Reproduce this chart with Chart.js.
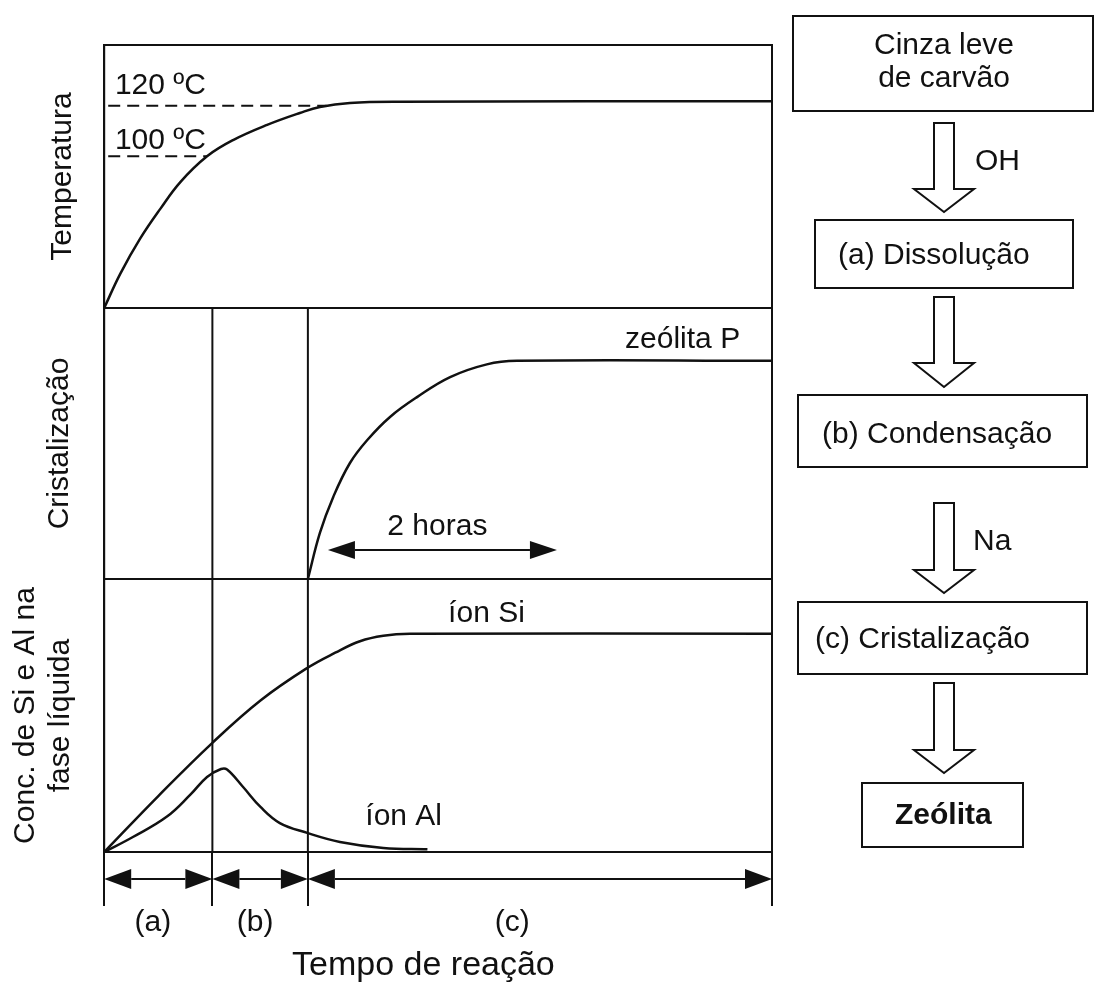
<!DOCTYPE html>
<html lang="pt">
<head>
<meta charset="utf-8">
<title>Síntese de zeólita a partir de cinza leve de carvão</title>
<script src="https://cdn.jsdelivr.net/npm/chart.js@4.4.1/dist/chart.umd.min.js"></script>
<style>
  html, body { margin: 0; padding: 0; background: #fff; }
  #wrap { position: relative; width: 1096px; height: 988px; }
</style>
</head>
<body>
<div id="wrap"><canvas id="zeoliteChart"></canvas></div>
<script>
// time axis, arbitrary units (0 = start of the reaction)
const phaseEdges = [0, 16.2, 30.5, 100];
const phaseLabels = ['(a)', '(b)', '(c)'];
const phaseLabelAt = [7.3, 22.6, 61.1];

// temperature, ºC
const tempTime = [0, 2.4, 5.4, 8.4, 11.4, 15.4, 19.3, 24.4, 29.3, 32.3, 36.8, 44.3, 100];
const tempValues = [40, 53.5, 67.5, 79.2, 89.8, 100, 106.4, 112.4, 117.1, 119.5, 121.1, 121.6, 121.8];
const tempMarks = [100, 120];
const tempMarkEnds = [15.4, 33.3];

// crystallisation of zeolite P
const crystTime = [30.5, 32.3, 34.3, 36.8, 39.4, 42.8, 46.9, 51.8, 57.3, 61.8, 100];
const crystValues = [0, 17, 30.3, 42.8, 51.3, 59.8, 67.2, 74.5, 79.2, 80.5, 80.5];
const twoHours = [33.5, 67.8];

// Si and Al ions in the liquid phase
const siTime = [0, 8.1, 16.2, 23.4, 30.4, 34.6, 38.3, 41.8, 45.8, 100];
const siValues = [0, 20.5, 40, 55.5, 67.4, 73, 77.2, 79.2, 79.9, 79.9];
const alTime = [0, 4.3, 9.4, 12.9, 15.4, 17.5, 18.4, 20.8, 23.4, 26.3, 30.4, 35.3, 41.8, 48.4];
const alValues = [0, 5.5, 13, 21, 27.5, 30.4, 30.2, 23.8, 16.5, 10.6, 7, 3.7, 1.5, 1.0];

// flow chart on the right
const flowSteps = [['Cinza leve', 'de carvão'], ['(a) Dissolução'], ['(b) Condensação'], ['(c) Cristalização'], ['Zeólita']];
const flowReagents = ['OH', '', 'Na', ''];

const INK = '#111';
const FONT = '"Liberation Sans", Arial, Helvetica, sans-serif';
Chart.defaults.font.family = FONT;

// where the annotations sit (data coordinates)
const notes = [
  { text: '120 ºC', axis: 'yTemp', x: 1.6, y: 124.8 },
  { text: '100 ºC', axis: 'yTemp', x: 1.6, y: 102.7 },
  { text: 'zeólita P', axis: 'yCryst', x: 78, y: 85.2 },
  { text: '2 horas', axis: 'yCryst', x: 42.4, y: 16.2 },
  { text: 'íon Si', axis: 'yConc', x: 51.5, y: 84.2 },
  { text: 'íon Al', axis: 'yConc', x: 39.1, y: 9.9 }
];

// flow chart layout (page pixels)
const flowCx = 944;
const flowBoxes = [[793, 16, 1093, 111], [815, 220, 1073, 288], [798, 395, 1087, 467], [798, 602, 1087, 674], [862, 783, 1023, 847]];
const flowTextPos = [[944, [54, 87], 'center'], [838, [264], 'left'], [822, [443], 'left'], [815, [648], 'left'], [895, [824], 'left']];
const flowArrows = [[123, 189, 212], [297, 363, 387], [503, 570, 593], [683, 750, 773]];
const reagentPos = [[975, 170], null, [973, 550], null];

const pts = (xs, ys) => xs.map((x, i) => ({ x: x, y: ys[i] }));

const curve = (data, axis, extra) => Object.assign({
  data: data,
  yAxisID: axis,
  borderColor: INK,
  borderWidth: 2.5,
  pointRadius: 0,
  fill: false,
  tension: 0.4
}, extra || {});

function head(ctx, tipX, y, len, half, dir) {
  ctx.beginPath();
  ctx.moveTo(tipX, y);
  ctx.lineTo(tipX - dir * len, y - half);
  ctx.lineTo(tipX - dir * len, y + half);
  ctx.closePath();
  ctx.fill();
}

function doubleArrow(ctx, x0, x1, y, len, half) {
  ctx.beginPath();
  ctx.moveTo(x0 + len, y);
  ctx.lineTo(x1 - len, y);
  ctx.stroke();
  head(ctx, x0, y, len, half, -1);
  head(ctx, x1, y, len, half, 1);
}

function blockArrow(ctx, cx, top, headTop, tip) {
  ctx.beginPath();
  ctx.moveTo(cx - 10, top);
  ctx.lineTo(cx + 10, top);
  ctx.lineTo(cx + 10, headTop);
  ctx.lineTo(cx + 30, headTop);
  ctx.lineTo(cx, tip);
  ctx.lineTo(cx - 30, headTop);
  ctx.lineTo(cx - 10, headTop);
  ctx.closePath();
  ctx.fillStyle = '#fff';
  ctx.fill();
  ctx.stroke();
}

const diagram = {
  id: 'diagram',
  beforeDatasetsDraw(chart) {
    const { ctx, chartArea: area, scales } = chart;
    ctx.save();
    ctx.strokeStyle = INK;
    ctx.lineWidth = 2;
    // frame of each panel
    ['yTemp', 'yCryst', 'yConc'].forEach(id => {
      const s = scales[id];
      ctx.strokeRect(area.left, s.top, area.right - area.left, s.bottom - s.top);
    });
    // phase boundaries through the lower two panels
    phaseEdges.slice(1, -1).forEach(t => {
      const px = scales.x.getPixelForValue(t);
      ctx.beginPath();
      ctx.moveTo(px, scales.yCryst.top);
      ctx.lineTo(px, area.bottom);
      ctx.stroke();
    });
    ctx.restore();
  },
  afterDraw(chart) {
    const { ctx, chartArea: area, scales } = chart;
    const x = scales.x;
    ctx.save();
    ctx.strokeStyle = INK;
    ctx.fillStyle = INK;
    ctx.lineWidth = 2;
    ctx.font = '30px ' + FONT;
    ctx.textBaseline = 'alphabetic';

    // phase arrows and labels under the time axis
    ctx.textAlign = 'center';
    phaseLabels.forEach((lab, i) => {
      doubleArrow(ctx, x.getPixelForValue(phaseEdges[i]), x.getPixelForValue(phaseEdges[i + 1]), area.bottom + 27, 27, 10);
      ctx.fillText(lab, x.getPixelForValue(phaseLabelAt[i]), area.bottom + 79);
    });
    ctx.font = '34px ' + FONT;
    ctx.fillText('Tempo de reação', x.getPixelForValue(47.8), area.bottom + 123);
    ctx.font = '30px ' + FONT;

    // 2 hour span in the crystallisation panel
    doubleArrow(ctx, x.getPixelForValue(twoHours[0]), x.getPixelForValue(twoHours[1]),
      scales.yCryst.getPixelForValue(10.7), 27, 9);

    ctx.textAlign = 'left';
    notes.forEach(n => {
      ctx.fillText(n.text, x.getPixelForValue(n.x), scales[n.axis].getPixelForValue(n.y));
    });

    // flow chart
    flowBoxes.forEach(b => ctx.strokeRect(b[0], b[1], b[2] - b[0], b[3] - b[1]));
    flowArrows.forEach(a => blockArrow(ctx, flowCx, a[0], a[1], a[2]));
    ctx.fillStyle = INK;
    flowSteps.forEach((lines, i) => {
      const p = flowTextPos[i];
      ctx.textAlign = p[2];
      ctx.font = (i === flowSteps.length - 1 ? 'bold ' : '') + '30px ' + FONT;
      lines.forEach((ln, j) => ctx.fillText(ln, p[0], p[1][j]));
    });
    ctx.font = '30px ' + FONT;
    ctx.textAlign = 'left';
    flowReagents.forEach((r, i) => {
      if (r && reagentPos[i]) ctx.fillText(r, reagentPos[i][0], reagentPos[i][1]);
    });
    ctx.restore();
  }
};

const hiddenY = (title, pad, weight, min, max) => ({
  type: 'linear',
  position: 'left',
  stack: 'panels',
  stackWeight: weight,
  min: min,
  max: max,
  ticks: { display: false },
  grid: { display: false, drawTicks: false },
  border: { display: true, color: INK, width: 2 },
  title: {
    display: true,
    text: title,
    color: INK,
    font: { family: FONT, size: 30, lineHeight: 1.17 },
    padding: pad
  }
});

new Chart(document.getElementById('zeoliteChart'), {
  type: 'line',
  data: {
    datasets: [
      curve(pts(tempTime, tempValues), 'yTemp'),
      ...tempMarks.map((v, i) => curve([{ x: 0.6, y: v }, { x: tempMarkEnds[i], y: v }], 'yTemp',
        { borderDash: [12, 7], borderWidth: 2, tension: 0 })),
      curve(pts(crystTime, crystValues), 'yCryst'),
      curve(pts(siTime, siValues), 'yConc'),
      curve(pts(alTime, alValues), 'yConc')
    ]
  },
  options: {
    responsive: true,
    maintainAspectRatio: false,
    animation: false,
    events: [],
    layout: { padding: { left: 8, top: 45, right: 324, bottom: 82 } },
    plugins: { legend: { display: false }, tooltip: { enabled: false } },
    scales: {
      x: {
        type: 'linear',
        position: 'bottom',
        min: 0,
        max: 100,
        afterBuildTicks: axis => { axis.ticks = phaseEdges.map(v => ({ value: v })); },
        ticks: { display: false },
        grid: { drawOnChartArea: false, drawTicks: true, tickLength: 54, color: INK, lineWidth: 2 },
        border: { display: true, color: INK, width: 2 }
      },
      yConc: hiddenY(['Conc. de Si e Al na', 'fase líquida'], { top: 0, bottom: 26 }, 273, 0, 100),
      yCryst: hiddenY('Cristalização', { top: 34.5, bottom: 0 }, 271, 0, 100),
      yTemp: hiddenY('Temperatura', { top: 37.5, bottom: 0 }, 263, 40, 144)
    }
  },
  plugins: [diagram]
});
</script>
</body>
</html>
